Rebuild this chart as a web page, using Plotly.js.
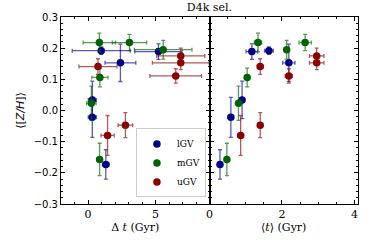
<!DOCTYPE html>
<html><head><meta charset="utf-8">
<script src="https://cdn.plot.ly/plotly-3.0.1.min.js"></script>
<style>html,body{margin:0;padding:0;background:#fff}#c{width:374px;height:249px}</style>
</head><body><div id="c"></div>
<script>
// Left panel: Delta t (Gyr)
const lGV_dt   = [0.98, 2.40, 5.22, 0.32, 0.32, 1.32];
const lGV_dtE  = [2.15, 1.14, 1.75, 0.30, 0.30, 0.25];
const mGV_dt   = [0.84, 3.07, 5.57, 0.88, 0.25, 0.86];
const mGV_dtE  = [1.20, 1.27, 2.13, 0.60, 0.35, 0.20];
const uGV_dt   = [0.74, 6.87, 6.87, 6.50, 1.45, 2.77];
const uGV_dtE  = [1.41, 1.78, 2.10, 1.91, 0.49, 0.54];
// Right panel: <t> (Gyr)
const lGV_t    = [1.64, 2.19, 1.17, 0.90, 0.59, 0.29];
const lGV_tE   = [0.12, 0.17, 0.16, 0.06, 0.07, 0.05];
const mGV_t    = [1.34, 2.64, 2.13, 1.04, 0.80, 0.48];
const mGV_tE   = [0.10, 0.17, 0.05, 0.05, 0.05, 0.05];
const uGV_t    = [1.40, 2.96, 2.96, 2.19, 0.86, 1.40];
const uGV_tE   = [0.08, 0.20, 0.20, 0.10, 0.08, 0.05];
// <[Z/H]>
const lGV_z    = [0.192, 0.153, 0.189, 0.034, -0.022, -0.173];
const lGV_zE   = [0.012, 0.060, 0.025, 0.060, 0.064, 0.047];
const mGV_z    = [0.218, 0.218, 0.195, 0.106, 0.023, -0.157];
const mGV_zE   = [0.030, 0.026, 0.030, 0.030, 0.055, 0.052];
const uGV_z    = [0.141, 0.175, 0.153, 0.111, -0.080, -0.047];
const uGV_zE   = [0.025, 0.025, 0.022, 0.023, 0.064, 0.040];

const series = [
  {name:'lGV', c:'#00008b', ec:'rgba(0,0,139,0.65)', dt:lGV_dt, dtE:lGV_dtE, t:lGV_t, tE:lGV_tE, z:lGV_z, zE:lGV_zE},
  {name:'mGV', c:'#006400', ec:'rgba(0,100,0,0.65)', dt:mGV_dt, dtE:mGV_dtE, t:mGV_t, tE:mGV_tE, z:mGV_z, zE:mGV_zE},
  {name:'uGV', c:'#8b0000', ec:'rgba(139,0,0,0.65)', dt:uGV_dt, dtE:uGV_dtE, t:uGV_t, tE:uGV_tE, z:uGV_z, zE:uGV_zE}
];
const traces = [];
series.forEach(s => {
  const err = (arr) => ({type:'data', array:arr, visible:true, color:s.ec, thickness:1.3, width:2});
  traces.push({x:s.dt, y:s.z, type:'scatter', mode:'markers', name:s.name, xaxis:'x', yaxis:'y',
    marker:{color:s.c, size:7.5}, error_x:err(s.dtE), error_y:err(s.zE)});
  traces.push({x:s.t, y:s.z, type:'scatter', mode:'markers', name:s.name, showlegend:false, xaxis:'x2', yaxis:'y2',
    marker:{color:s.c, size:7.5}, error_x:err(s.tE), error_y:err(s.zE)});
});
const serif = 'DejaVu Serif, serif';
const axBase = {showgrid:false, zeroline:false, showline:true, linecolor:'#000', linewidth:1,
  mirror:'allticks', ticks:'inside', ticklen:4, tickwidth:1, tickcolor:'#000'};
const layout = {
  width:374, height:249,
  margin:{l:61, r:16, t:17, b:45},
  paper_bgcolor:'#fff', plot_bgcolor:'#fff',
  showlegend:true,
  title:{text:'D4k sel.', font:{family:serif, size:11, color:'#000'}, x:0.56, xanchor:'center', y:0.985, yanchor:'top'},
  xaxis:Object.assign({}, axBase, {domain:[0,0.5], range:[-2,9], tickvals:[0,5], anchor:'y',
    tickfont:{family:serif, size:11, color:'#000'},
    minor:{dtick:1, ticks:'inside', ticklen:2, tickcolor:'#000'},
    title:{text:'Δ <i>t</i> (Gyr)', font:{family:serif, size:11, color:'#000'}, standoff:2}}),
  xaxis2:Object.assign({}, axBase, {domain:[0.5,1], range:[0,4.1], tickvals:[0,2,4], anchor:'y2',
    tickfont:{family:serif, size:11, color:'#000'},
    minor:{dtick:0.5, ticks:'inside', ticklen:2, tickcolor:'#000'},
    title:{text:'⟨<i>t</i>⟩ (Gyr)', font:{family:serif, size:11, color:'#000'}, standoff:2}}),
  yaxis:Object.assign({}, axBase, {range:[-0.3,0.3], tickvals:[-0.3,-0.2,-0.1,0,0.1,0.2,0.3], anchor:'x',
    ticktext:['−0.3','−0.2','−0.1','0.0','0.1','0.2','0.3'],
    tickfont:{family:'DejaVu Sans, sans-serif', size:10, color:'#000'},
    minor:{dtick:0.02, ticks:'inside', ticklen:2, tickcolor:'#000'},
    title:{text:'⟨[<i>Z/H</i>]⟩', font:{family:'DejaVu Sans, sans-serif', size:11, color:'#000'}, standoff:6}}),
  yaxis2:Object.assign({}, axBase, {range:[-0.3,0.3], tickvals:[-0.3,-0.2,-0.1,0,0.1,0.2,0.3], anchor:'x2',
    showticklabels:false,
    minor:{dtick:0.02, ticks:'inside', ticklen:2, tickcolor:'#000'}}),
  legend:{x:0.488, xanchor:'right', y:0.035, yanchor:'bottom', bgcolor:'rgba(255,255,255,0.9)',
    bordercolor:'#ccc', borderwidth:1, font:{family:serif, size:9, color:'#000'},
    itemwidth:30, tracegroupgap:0}
};
Plotly.newPlot('c', traces, layout, {displayModeBar:false, staticPlot:true});
</script></body></html>
